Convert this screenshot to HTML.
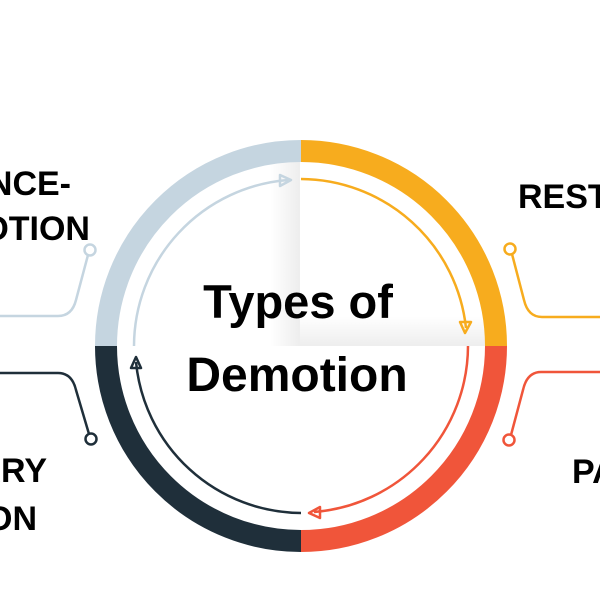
<!DOCTYPE html>
<html><head><meta charset="utf-8"><style>
html,body{margin:0;padding:0;background:#fff;width:600px;height:600px;overflow:hidden}
</style></head><body>
<svg width="600" height="600" viewBox="0 0 600 600" xmlns="http://www.w3.org/2000/svg" font-family="Liberation Sans, sans-serif" font-weight="bold">
<defs>
<linearGradient id="gv" x1="0" x2="1"><stop offset="0" stop-color="#000" stop-opacity="0"/><stop offset="1" stop-color="#000" stop-opacity="0.07"/></linearGradient>
<linearGradient id="gh" x1="0" y1="0" x2="0" y2="1"><stop offset="0" stop-color="#000" stop-opacity="0"/><stop offset="1" stop-color="#000" stop-opacity="0.07"/></linearGradient>
</defs>
<rect x="270" y="160" width="30" height="186" fill="url(#gv)"/>
<rect x="300" y="316" width="186" height="30" fill="url(#gh)"/>
<g fill="none" stroke-width="22">
<path d="M106 346 A195 195 0 0 1 301 151" stroke="#c5d5e0"/>
<path d="M301 151 A195 195 0 0 1 496 346" stroke="#f7ac1e"/>
<path d="M496 346 A195 195 0 0 1 301 541" stroke="#f0553a"/>
<path d="M301 541 A195 195 0 0 1 106 346" stroke="#1f2f3a"/>
</g>
<g fill="none" stroke-width="2.5" stroke-linejoin="round">
<path d="M134 346 A167 167 0 0 1 288 180" stroke="#c5d5e0"/>
<path d="M280 175 L291 180 L280 186 Z" stroke="#c5d5e0"/>
<path d="M301 179 A167 167 0 0 1 466 328" stroke="#f7ac1e"/>
<path d="M460 322 L465 333 L471 322 Z" stroke="#f7ac1e"/>
<path d="M468 346 A167 167 0 0 1 314 512" stroke="#f0553a"/>
<path d="M320 507 L309 513 L320 518 Z" stroke="#f0553a"/>
<path d="M301 513 A167 167 0 0 1 136 362" stroke="#1f2f3a"/>
<path d="M131 368 L136 357 L141 368 Z" stroke="#1f2f3a"/>
</g>
<g fill="none" stroke-width="2.5">
<circle cx="90" cy="250" r="5.5" stroke="#c5d5e0"/>
<path d="M88 255 L76 300 Q72 316 58 316 L0 316" stroke="#c5d5e0"/>
<circle cx="91" cy="439" r="5.5" stroke="#1f2f3a"/>
<path d="M89 434 L76 390 Q72 373 58 373 L0 373" stroke="#1f2f3a"/>
<circle cx="510" cy="249" r="5.5" stroke="#f7ac1e"/>
<path d="M512 254 L524 300 Q528 317 542 317 L600 317" stroke="#f7ac1e"/>
<circle cx="509" cy="440" r="5.5" stroke="#f0553a"/>
<path d="M511 435 L523 390 Q527 372 541 372 L600 372" stroke="#f0553a"/>
</g>
<g fill="#000" font-size="34">
<text x="71" y="195" text-anchor="end">NCE-</text>
<text x="90" y="240" text-anchor="end">OTION</text>
<text x="47" y="482" text-anchor="end">ARY</text>
<text x="37" y="530" text-anchor="end">ON</text>
<text x="518" y="208">REST</text>
<text x="572" y="483">PA</text>
</g>
<text x="298" y="318" text-anchor="middle" font-size="47" fill="#000">Types of</text>
<text x="297" y="391" text-anchor="middle" font-size="48" fill="#000">Demotion</text>
</svg>
</body></html>
